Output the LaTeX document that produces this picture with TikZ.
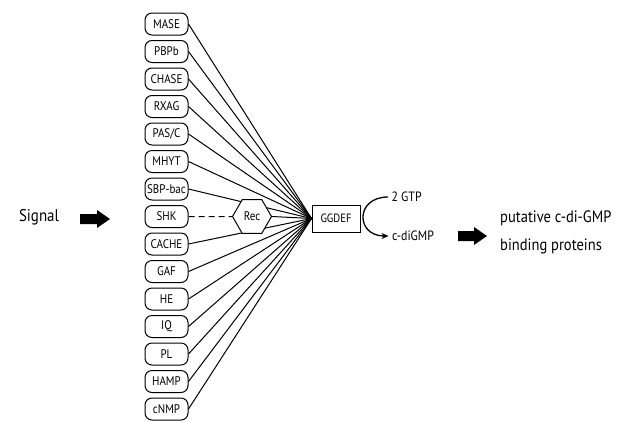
\documentclass[tikz,border=0pt]{standalone}
\usepackage{fontspec}
\setmainfont{PT Sans}[FakeStretch=0.88]
\usepackage{tikz}
\usetikzlibrary{arrows.meta, shapes.geometric}

\begin{document}
\begin{tikzpicture}[x=1pt,y=-1pt,>=Stealth,
		dom/.style={draw,line width=1pt,rounded corners=7pt,minimum width=43pt,minimum height=22pt,inner xsep=1pt,font=\fontsize{12.5}{13}\selectfont},
		link/.style={line width=1pt}]
	\useasboundingbox (0,0) rectangle (639,421);
	% signal and first arrow
	\node[font=\fontsize{17}{18}\selectfont] (signal) at (39,217) {Signal};
	\coordinate (arr1) at (95,219);
	\fill (arr1) ++(-15,-5) -- ++(17,0) -- ++(0,-4) -- ++(13,9) -- ++(-13,9) -- ++(0,-4) -- ++(-17,0) -- cycle;
	
	% enzyme
	\node[draw,line width=1pt,minimum width=48pt,minimum height=27pt,inner sep=0pt,font=\fontsize{12}{13}\selectfont] (ggdef) at (336,218.5) {GGDEF};
	\coordinate (hub) at (ggdef.west);
	
	% sensor domains
	\foreach \name [count=\i from 0] in {MASE,PBPb,CHASE,RXAG,PAS/C,MHYT,SBP-bac,SHK,CACHE,GAF,HE,IQ,PL,HAMP,cNMP}{
		\node[dom] (d\i) at (166.5,{24+27.5*\i}) {\name};
	}
	\foreach \i in {0,...,6,8,9,...,14}{
		\draw[link] (d\i.east) -- (hub);
	}
	
	% receiver
	\node[draw,line width=1pt,fill=white,regular polygon,regular polygon sides=6,minimum size=39pt,inner sep=0pt,font=\fontsize{12.5}{13}\selectfont] (rec) at (252,216.5) {Rec};
	\draw[link,dash pattern=on 6pt off 4pt] (d7.east) -- (rec.west);
	\draw[link] (rec.east) -- (hub);
	
	% cyclase reaction
	\node[anchor=west,font=\fontsize{13.5}{14}\selectfont] (gtp) at (388,197) {2 GTP};
	\node[anchor=west,font=\fontsize{13.5}{14}\selectfont] (cdg) at (388.5,236) {c-diGMP};
	\draw[line width=1.3pt,-{Stealth[length=7pt,width=6pt]}] (gtp.west) .. controls +(-33,0) and +(-33,0) .. (cdg.west);
	
	% second arrow and targets
	\coordinate (arr2) at (472.5,236);
	\fill (arr2) ++(-14.5,-5) -- ++(16,0) -- ++(0,-4) -- ++(13,9) -- ++(-13,9) -- ++(0,-4) -- ++(-16,0) -- cycle;
	\node[anchor=west,align=left,font=\fontsize{16.5}{28}\selectfont,inner sep=0pt] (bind) at (500,232) {putative c-di-GMP\\binding proteins};
\end{tikzpicture}
\end{document}
